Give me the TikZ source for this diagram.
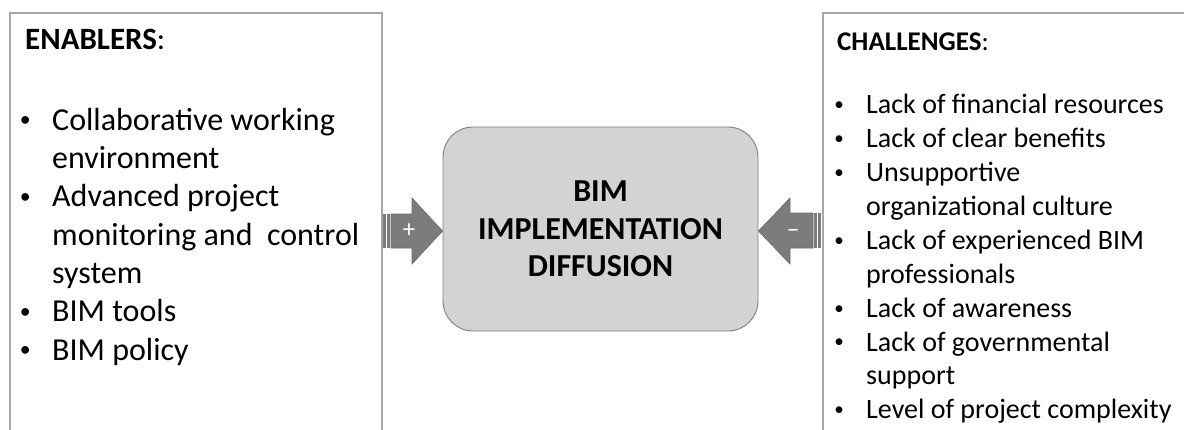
\documentclass[tikz,border=0pt]{standalone}
\usepackage{graphicx}
\usepackage{fontspec}
\setmainfont{Carlito}
\definecolor{framegray}{HTML}{A6A6A6}
\definecolor{corefill}{HTML}{D3D3D3}
\definecolor{coreline}{HTML}{7F7F7F}
\definecolor{arrowfill}{HTML}{7C7C7C}
\definecolor{arrowline}{HTML}{6B6B6B}
% small list bullet hung 27pt left of the item text
\newcommand{\bul}{\llap{\makebox[0pt]{\raisebox{0.11em}{\scalebox{0.68}{\textbullet}}}\hspace{27pt}}}
\begin{document}
\begin{tikzpicture}[x=1pt,y=-1pt,
  panel/.style={draw=framegray,line width=1.5pt},
  heading/.style={anchor=base west,inner sep=0pt},
  listtext/.style={anchor=north west,inner sep=0pt,align=left},
  core/.style={draw=coreline,line width=0.9pt,fill=corefill,rounded corners=30pt,
    minimum width=315pt,minimum height=204pt,inner sep=0pt,align=center,
    font=\fontsize{32}{37.5}\selectfont\bfseries},
  blockarrow/.style={fill=arrowfill,draw=arrowline,line width=0.6pt},
  sign/.style={text=white,inner sep=0pt}]
\useasboundingbox (0,0) rectangle (1184,429);
\clip (0,0) rectangle (1184,429);

% side panels (open at the bottom)
\draw[panel] (10,13) rectangle (382,445);
\draw[panel] (823,13) rectangle (1195,445);

% headings
\node[heading,font=\fontsize{31}{37}\selectfont] (enh) at (25,49) {\textbf{ENABLERS}:};
\node[heading,font=\fontsize{27}{33}\selectfont] (chh) at (837,50) {\textbf{CHALLENGES}:};

% enablers list
\node[listtext,font=\fontsize{32}{38.3}\selectfont] (enl) at (52,103.2)
  {\strut\bul Collaborative working\\
   environment\\
   \bul Advanced project\\
   monitoring and \ control\\
   system\\
   \bul BIM tools\\
   \bul BIM policy};

% challenges list
\node[listtext,font=\fontsize{28}{33.9}\selectfont] (chl) at (866,89.8)
  {\strut\bul Lack of financial resources\\
   \bul Lack of clear benefits\\
   \bul Unsupportive\\
   organizational culture\\
   \bul Lack of experienced BIM\\
   professionals\\
   \bul Lack of awareness\\
   \bul Lack of governmental\\
   support\\
   \bul Level of project complexity};

% central block
\node[core] (bim) at (600.5,229) {BIM\\IMPLEMENTATION\\DIFFUSION};

% enabling arrow (+)
\fill[arrowfill] (383,214) rectangle (385.6,248);
\fill[arrowfill] (386.8,214) rectangle (389.6,248);
\draw[blockarrow] (391,214) -- (412,214) -- (412,198) -- (bim.west |- 0,231)
  -- (412,264) -- (412,248) -- (391,248) -- cycle;
\node[sign,font=\fontsize{25}{25}\selectfont] (plus) at (409,231) {+};

% hindering arrow (-)
\fill[arrowfill] (814.4,213) rectangle (817.2,248);
\fill[arrowfill] (818.4,213) rectangle (821,248);
\draw[blockarrow] (813,213) -- (790,213) -- (790,198) -- (bim.east |- 0,231)
  -- (790,264) -- (790,248) -- (813,248) -- cycle;
\node[sign,font=\fontsize{26}{26}\selectfont] (minus) at (793,233) {–};
\end{tikzpicture}
\end{document}
